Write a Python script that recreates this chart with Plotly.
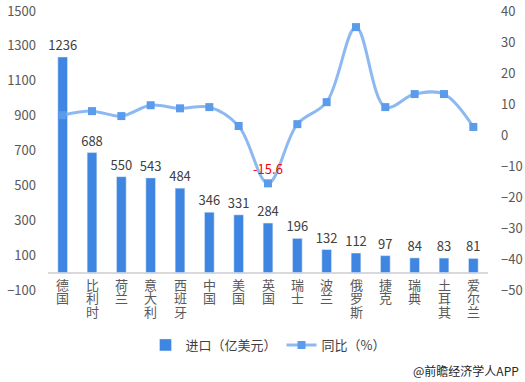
import plotly.graph_objects as go

categories = ["德国", "比利时", "荷兰", "意大利", "西班牙", "中国", "美国", "英国",
              "瑞士", "波兰", "俄罗斯", "捷克", "瑞典", "土耳其", "爱尔兰"]
imports = [1236, 688, 550, 543, 484, 346, 331, 284, 196, 132, 112, 97, 84, 83, 81]
yoy = [6.4, 7.7, 6.1, 9.6, 8.6, 9.0, 2.9, -15.6, 3.5, 10.6, 34.8, 9.0, 13.2, 13.2, 2.6]
left_ticks = [-100, 100, 300, 500, 700, 900, 1100, 1300, 1500]
right_ticks = [-50, -40, -30, -20, -10, 0, 10, 20, 30, 40]

font = "Noto Sans CJK SC, Noto Sans, sans-serif"
line_text = ["-15.6" if c == "英国" else "" for c in categories]

fig = go.Figure()
fig.add_trace(go.Bar(
    x=categories, y=imports, name="进口（亿美元）",
    marker=dict(color="#3F86E2"), width=0.33,
    text=[str(v) for v in imports], textposition="outside",
    constraintext="none",
    textfont=dict(color="#404040", size=13, family=font),
    cliponaxis=False,
))
fig.add_trace(go.Scatter(
    x=categories, y=yoy, name="同比（%）", yaxis="y2",
    mode="lines+markers+text",
    line=dict(color="#8DB9F2", width=3, shape="spline", smoothing=1.0),
    marker=dict(symbol="square", size=8, color="#5A9BEB"),
    text=line_text, textposition="top center",
    textfont=dict(color="#FF0000", size=13, family=font),
    cliponaxis=False,
))

annotations = []
for c in categories:
    for i, ch in enumerate(c):
        annotations.append(dict(
            text=ch, x=c, xref="x", y=0, yref="paper", yanchor="middle",
            yshift=6 - 13.5 * i, showarrow=False,
            font=dict(size=13, color="#595959", family=font),
        ))
annotations.append(dict(
    text="@前瞻经济学人APP", xref="paper", yref="paper",
    x=1.075, y=-0.287, xanchor="right", yanchor="middle", showarrow=False,
    font=dict(size=12, color="#262626", family=font),
))

fig.update_layout(
    width=525, height=382,
    margin=dict(l=48, r=37, t=11, b=92, autoexpand=False),
    paper_bgcolor="white", plot_bgcolor="white",
    font=dict(family=font, color="#595959", size=13),
    showlegend=True,
    legend=dict(orientation="h", x=0.5, xanchor="center", y=-0.197, yanchor="middle",
                font=dict(size=13, color="#404040"), itemwidth=30),
    xaxis=dict(
        showticklabels=False, automargin=False,
        showgrid=False, showline=False, ticks="",
        range=[-0.5, 14.5],
    ),
    yaxis=dict(
        range=[-100, 1500], tickmode="array", tickvals=left_ticks, automargin=False,
        showgrid=False, zeroline=True, zerolinecolor="#D9D9D9", zerolinewidth=1.5,
        showline=False, ticks="", tickfont=dict(size=13, color="#595959"),
        ticklabelstandoff=11,
    ),
    yaxis2=dict(
        range=[-50, 40], tickmode="array", tickvals=right_ticks, automargin=False,
        overlaying="y", side="right", showgrid=False, zeroline=False,
        showline=False, ticks="", tickfont=dict(size=13, color="#595959"),
        ticklabelstandoff=12,
    ),
    annotations=annotations,
)

fig.write_html("out.html", config={"displayModeBar": False},
               post_script="document.body.style.margin='0';")
